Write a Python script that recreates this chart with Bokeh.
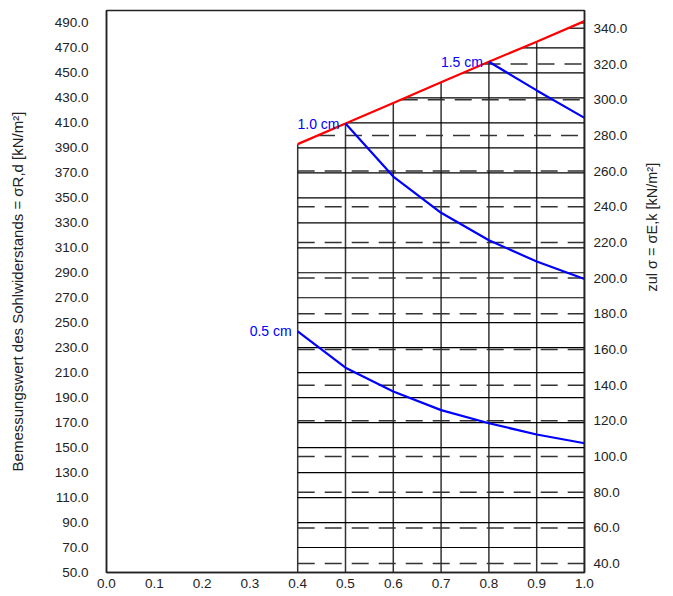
import math
import numpy as np
from bokeh.plotting import figure
from bokeh.models import Range1d, LinearAxis, FixedTicker, PrintfTickFormatter, ColumnDataSource
from bokeh.core.properties import value
from bokeh.embed import file_html
from bokeh.resources import INLINE

# ---------------- data ----------------
x_ticks = [0.0, 0.1, 0.2, 0.3, 0.4, 0.5, 0.6, 0.7, 0.8, 0.9, 1.0]
left_ticks = [50, 70, 90, 110, 130, 150, 170, 190, 210, 230, 250, 270, 290,
              310, 330, 350, 370, 390, 410, 430, 450, 470, 490]
right_ticks = [40, 60, 80, 100, 120, 140, 160, 180, 200, 220, 240, 260, 280, 300, 320, 340]
grid_x = [0.4, 0.5, 0.6, 0.7, 0.8, 0.9, 1.0]

# upper limit (red)
red_x = [0.4, 0.5, 0.6, 0.7, 0.8, 0.9, 1.0]
red_y = [393.0, 409.5, 426.0, 442.5, 459.0, 475.0, 491.5]

# curves (blue)
x_05 = [0.4, 0.5, 0.6, 0.7, 0.8, 0.9, 1.0]
y_05 = [243.0, 214.0, 195.0, 180.0, 169.5, 160.5, 153.5]
x_10 = [0.5, 0.6, 0.7, 0.8, 0.9, 1.0]
y_10 = [409.5, 367.0, 338.0, 316.0, 299.0, 285.0]
x_15 = [0.8, 0.9, 1.0]
y_15 = [459.0, 436.0, 414.0]
curve_labels = ["0.5 cm", "1.0 cm", "1.5 cm"]

LEFT_MIN, LEFT_MAX = 50, 500
RIGHT_MIN, RIGHT_MAX = 35, 350

FONT = "Liberation Sans"

p = figure(width=672, height=594, output_backend="svg", toolbar_location=None,
           x_range=Range1d(0, 1), y_range=Range1d(LEFT_MIN, LEFT_MAX),
           min_border_left=106, min_border_right=88, min_border_top=10, min_border_bottom=22)
p.extra_y_ranges = {"right": Range1d(RIGHT_MIN, RIGHT_MAX)}
p.grid.visible = False
p.outline_line_color = "#222222"
p.outline_line_width = 1.5
p.background_fill_color = "white"
p.border_fill_color = "white"

# ---------- clipped grid ----------
def x_at_level(level_left):
    return float(np.interp(level_left, red_y, red_x))

# vertical lines up to the red limit
v_top = [float(np.interp(x, red_x, red_y)) for x in grid_x]
p.segment(x0=grid_x, y0=[LEFT_MIN] * len(grid_x), x1=grid_x, y1=v_top,
          line_color="#333333", line_width=1.5)

# solid horizontal lines (left scale)
h_levels = [v for v in left_ticks if v > LEFT_MIN]
h_x0 = [x_at_level(v) for v in h_levels]
p.segment(x0=h_x0, y0=h_levels, x1=[1.0] * len(h_levels), y1=h_levels,
          line_color="black", line_width=1.2)

# dashed horizontal lines (right scale)
scale = (LEFT_MAX - LEFT_MIN) / (RIGHT_MAX - RIGHT_MIN)
d_x0 = [x_at_level(LEFT_MIN + (r - RIGHT_MIN) * scale) for r in right_ticks]
p.segment(x0=d_x0, y0=right_ticks, x1=[1.0] * len(right_ticks), y1=right_ticks,
          y_range_name="right", line_color="#333333", line_width=1.5, line_dash="17 10")

# ---------- curves ----------
p.line(red_x, red_y, line_color="#ff0000", line_width=2.2)
for xs, ys in [(x_05, y_05), (x_10, y_10), (x_15, y_15)]:
    p.line(xs, ys, line_color="#0000ff", line_width=2.2)

lab_src = ColumnDataSource(dict(x=[x_05[0], x_10[0], x_15[0]],
                                y=[y_05[0], y_10[0], y_15[0]],
                                t=curve_labels))
p.text(x="x", y="y", text="t", source=lab_src, text_color="#0000ff",
       text_font=value(FONT), text_font_size="14px", text_align="right",
       text_baseline="alphabetic", x_offset=-6, y_offset=0)

# ---------- axes ----------
def style_axis(ax):
    ax.major_tick_line_color = None
    ax.minor_tick_line_color = None
    ax.major_tick_out = 0
    ax.major_tick_in = 0
    ax.axis_line_color = "#222222"
    ax.axis_line_width = 1.5
    ax.major_label_text_font = FONT
    ax.major_label_text_font_size = "13.5px"
    ax.major_label_text_color = "#222222"
    ax.axis_label_text_font = FONT
    ax.axis_label_text_font_size = "14.5px"
    ax.axis_label_text_font_style = "normal"
    ax.axis_label_text_color = "#222222"
    ax.formatter = PrintfTickFormatter(format="%.1f")

xa = p.xaxis[0]
style_axis(xa)
xa.ticker = FixedTicker(ticks=x_ticks)
xa.major_label_standoff = 6

ya = p.yaxis[0]
style_axis(ya)
ya.ticker = FixedTicker(ticks=left_ticks)
ya.major_label_standoff = 18
ya.axis_label = "Bemessungswert des Sohlwiderstands = \u03c3R,d [kN/m\u00b2]"
ya.axis_label_text_font_size = "15px"
ya.axis_label_standoff = 26

ra = LinearAxis(y_range_name="right")
style_axis(ra)
ra.ticker = FixedTicker(ticks=right_ticks)
ra.major_label_standoff = 9
ra.axis_label = "zul \u03c3 = \u03c3E,k [kN/m\u00b2]"
ra.axis_label_standoff = 22
ra.axis_label_orientation = math.pi / 2
p.add_layout(ra, "right")

open("out.html", "w").write(file_html(p, INLINE))
